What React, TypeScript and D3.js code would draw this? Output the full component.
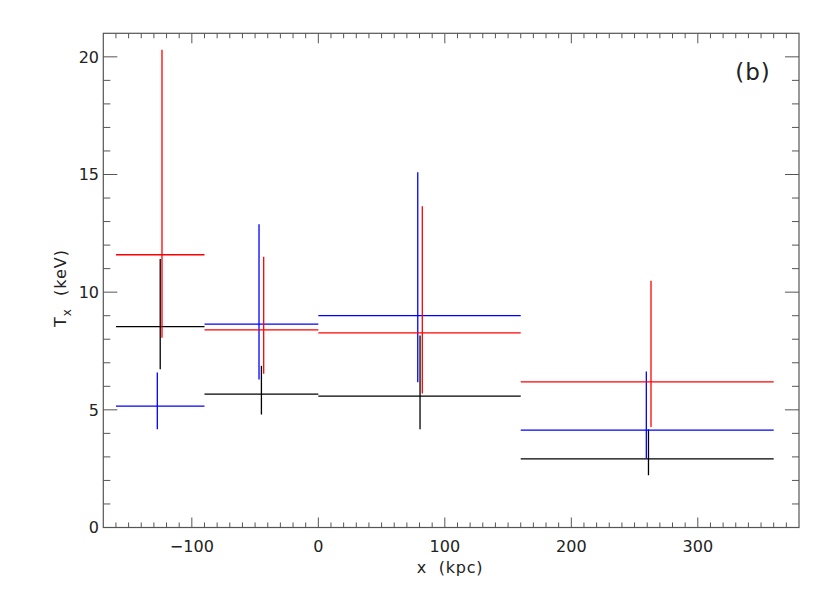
import React from 'react';
import * as d3 from 'd3';

// radial bins (kpc)
const binStart = [-160, -90, 0, 160];
const binEnd = [-90, 0, 160, 360];

// black series
const blackX = [-125, -45, 80.4, 261];
const blackT = [8.54, 5.67, 5.58, 2.92];
const blackLo = [6.72, 4.8, 4.17, 2.22];
const blackHi = [11.41, 6.87, 8.16, 4.17];

// blue series
const blueX = [-127.3, -46.9, 78.6, 259.3];
const blueT = [5.16, 8.64, 9.0, 4.14];
const blueLo = [4.17, 6.29, 6.17, 2.92];
const blueHi = [6.59, 12.89, 15.1, 6.63];

// red series
const redX = [-123.6, -43.2, 82.2, 263];
const redT = [11.59, 8.4, 8.27, 6.19];
const redLo = [8.06, 6.53, 5.69, 4.27];
const redHi = [20.3, 11.5, 13.65, 10.49];

const xMajor = [-100, 0, 100, 200, 300];
const yMajor = [0, 5, 10, 15, 20];

const series = [
  { color: '#000000', x: blackX, t: blackT, lo: blackLo, hi: blackHi },
  { color: '#0000ff', x: blueX, t: blueT, lo: blueLo, hi: blueHi },
  { color: '#ff0000', x: redX, t: redT, lo: redLo, hi: redHi },
];

const W = 830, H = 593;
const left = 103.3, right = 799, top = 33.3, bottom = 527.5;
const axisColor = '#555';
const textColor = '#222';
const font = 'DejaVu Sans, sans-serif';

export default function App() {
  const x = d3.scaleLinear().domain([-170, 380]).range([left, right]);
  const y = d3.scaleLinear().domain([0, 21]).range([bottom, top]);

  const xMinor = d3.range(-160, 380, 10).filter(v => v % 100 !== 0);
  const yMinor = d3.range(1, 21, 1).filter(v => v % 5 !== 0);

  return (
    <svg width={W} height={H} style={{ position: 'absolute', left: 0, top: 0, background: '#fff' }}>
      {/* frame */}
      <rect x={left} y={top} width={right - left} height={bottom - top} fill="none" stroke={axisColor} strokeWidth={1.2} />

      {/* x ticks, bottom and top */}
      {xMajor.map(v => (
        <g key={'xM' + v}>
          <line x1={x(v)} x2={x(v)} y1={bottom} y2={bottom - 10} stroke={axisColor} />
          <line x1={x(v)} x2={x(v)} y1={top} y2={top + 10} stroke={axisColor} />
          <text x={x(v)} y={552} textAnchor="middle" fontFamily={font} fontSize={16} fill={textColor}>
            {v < 0 ? '\u2212' + Math.abs(v) : v}
          </text>
        </g>
      ))}
      {xMinor.map(v => (
        <g key={'xm' + v}>
          <line x1={x(v)} x2={x(v)} y1={bottom} y2={bottom - 5} stroke={axisColor} />
          <line x1={x(v)} x2={x(v)} y1={top} y2={top + 5} stroke={axisColor} />
        </g>
      ))}

      {/* y ticks, left and right */}
      {yMajor.map(v => (
        <g key={'yM' + v}>
          <line x1={left} x2={left + 14} y1={y(v)} y2={y(v)} stroke={axisColor} />
          <line x1={right} x2={right - 14} y1={y(v)} y2={y(v)} stroke={axisColor} />
          <text x={99} y={y(v)} dy="0.36em" textAnchor="end" fontFamily={font} fontSize={16} fill={textColor}>{v}</text>
        </g>
      ))}
      {yMinor.map(v => (
        <g key={'ym' + v}>
          <line x1={left} x2={left + 7} y1={y(v)} y2={y(v)} stroke={axisColor} />
          <line x1={right} x2={right - 7} y1={y(v)} y2={y(v)} stroke={axisColor} />
        </g>
      ))}

      {/* data: horizontal bin widths + vertical error bars */}
      {series.map((s, si) => (
        <g key={si} stroke={s.color} strokeWidth={1.3}>
          {binStart.map((b, i) => (
            <g key={i}>
              <line x1={x(b)} x2={x(binEnd[i])} y1={y(s.t[i])} y2={y(s.t[i])} />
              <line x1={x(s.x[i])} x2={x(s.x[i])} y1={y(s.lo[i])} y2={y(s.hi[i])} />
            </g>
          ))}
        </g>
      ))}

      {/* axis titles */}
      <text x={450} y={573} textAnchor="middle" fontFamily={font} fontSize={16} letterSpacing={0.8} fill={textColor} style={{ whiteSpace: 'pre' }}>
        {'x  (kpc)'}
      </text>
      <text transform={`translate(66,288) rotate(-90)`} textAnchor="middle" fontFamily={font} fontSize={16} letterSpacing={1} fill={textColor} style={{ whiteSpace: 'pre' }}>
        T<tspan fontSize={12} dy="5">x</tspan><tspan dy="-5">{'  (keV)'}</tspan>
      </text>

      <text x={753} y={80} textAnchor="middle" fontFamily={font} fontSize={23} fill={textColor} letterSpacing={1} style={{ whiteSpace: 'pre' }}>(b)</text>
    </svg>
  );
}
